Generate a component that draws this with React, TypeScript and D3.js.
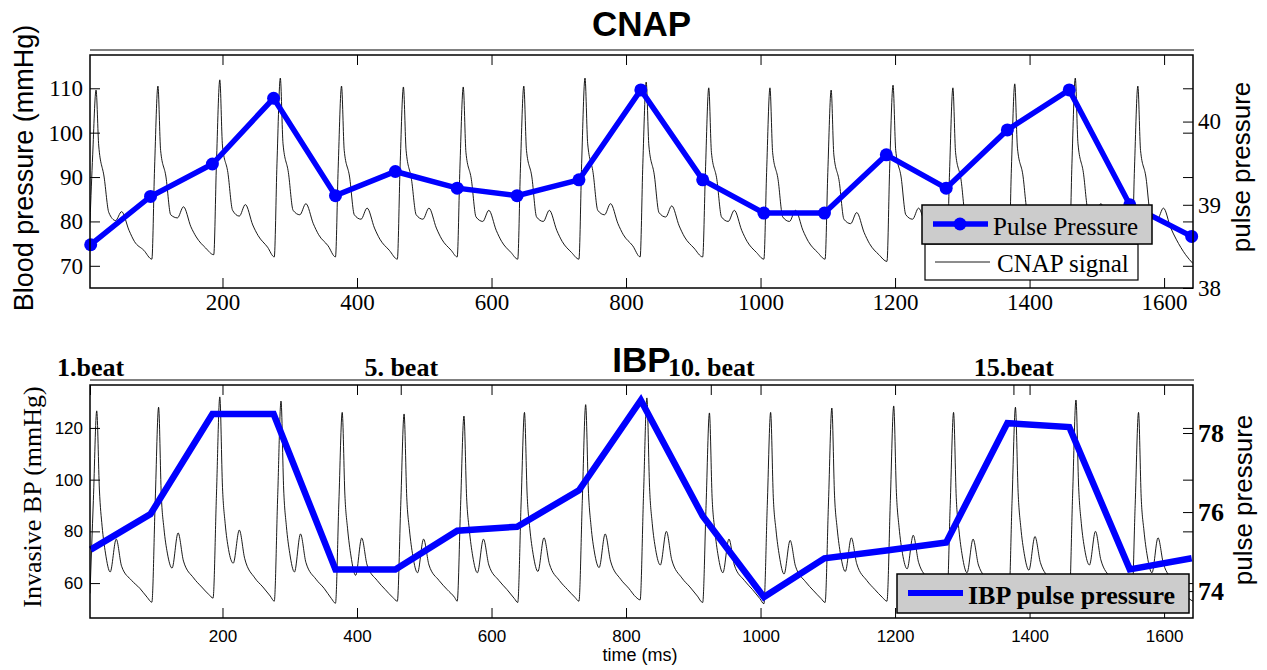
import React, { useEffect, useRef } from 'react';
import * as d3 from 'd3';

const W = 1267;
const H = 670;

// time axis (ms)
const timeDomain = [3, 1643];
const timeTicks = [200, 400, 600, 800, 1000, 1200, 1400, 1600];

// pulse pressure samples, one per beat onset
const ppTimes = [4, 93, 185, 276, 368, 457, 549, 638, 730, 822, 914, 1005, 1095, 1187, 1276, 1367, 1459, 1549, 1641];
const cnapPP = [38.52, 39.1, 39.49, 40.28, 39.11, 39.4, 39.2, 39.11, 39.3, 40.38, 39.3, 38.9, 38.9, 39.6, 39.2, 39.9, 40.38, 39.0, 38.62];
const ibpPP = [75.05, 75.95, 78.48, 78.48, 74.55, 74.55, 75.53, 75.63, 76.55, 78.83, 75.9, 73.85, 74.83, 75.03, 75.23, 78.25, 78.15, 74.55, 74.83];

// CNAP signal: beat onsets (ms), sample offsets inside a beat (ms), values per beat (mmHg)
const cnapOnsets = [3, 95, 187, 277, 368, 460, 549, 639, 730, 821, 914, 1005, 1096, 1188, 1277, 1369, 1459, 1552];
const cnapOffsets = [0, 4, 9, 13, 21, 28, 38, 47, 58, 66, 80];
const cnapBeats = [
  [80, 95, 109.6, 97, 90, 82, 80.2, 82.2, 78, 75.5, 73.5],
  [71.5, 92, 110.5, 96, 90, 81.5, 80.8, 83.3, 78.8, 76.5, 74],
  [72.5, 93, 111.9, 97, 91, 82.5, 81.2, 83.8, 79.2, 76.8, 74.2],
  [72, 93, 112.3, 97.5, 91, 82.5, 81.5, 84, 79.5, 77, 74.5],
  [72, 92, 110.5, 96, 90, 81.5, 80.5, 83, 78.5, 76, 73.5],
  [71.5, 92, 110.3, 96, 89.5, 81.5, 80.5, 83, 78.5, 76, 73.5],
  [72, 92, 110.3, 95.5, 89.5, 81, 80, 82.5, 78, 75.5, 73],
  [71.5, 92, 110.5, 96, 90, 81, 80, 82.5, 78, 75.5, 73],
  [71.5, 93, 112.3, 97.5, 91, 82.5, 81.5, 84, 79.5, 77, 74.5],
  [72, 93, 111.4, 97, 90.5, 82, 81, 83.5, 79, 76.5, 74],
  [72, 91, 110.1, 95.5, 89.5, 81, 80, 82.5, 78, 75.5, 73],
  [71.5, 91, 110.1, 95.5, 89.5, 81, 80, 82.5, 78, 75.5, 73],
  [71.5, 91, 109.6, 95, 89, 80.5, 79.5, 82, 77.5, 75, 72.5],
  [71, 92, 110.7, 96, 90, 81.5, 80.5, 83, 78.5, 76, 73.5],
  [72, 91, 110.1, 95.5, 89.5, 81, 80, 82.5, 78, 75.5, 73],
  [71.5, 92, 111, 96.5, 90.5, 82, 81, 83.5, 79, 76.5, 74],
  [72, 93, 112.3, 97.5, 91, 82.5, 81.5, 84, 79.5, 77, 74.5],
  [72, 92, 110.5, 96, 90, 81.5, 80.5, 83, 78.5, 76, 72.5]
];
const cnapEnd = [1643, 70.5];

// IBP signal
const ibpOnsets = [3, 95, 186, 277, 368, 460, 549, 639, 730, 821, 914, 1005, 1096, 1188, 1277, 1369, 1459, 1552];
const ibpOffsets = [0, 5, 10, 14, 18, 23, 30, 39, 47, 62, 74, 85];
const ibpBeats = [
  [56, 92, 126.6, 96, 82, 71.6, 64.3, 77, 66.5, 61, 58, 54.5],
  [52.6, 92, 128, 94, 81, 71.6, 65.8, 79.4, 68.5, 62, 58.5, 55.5],
  [54.2, 94, 132, 97, 83, 73, 67.7, 80.5, 69.5, 62, 58.5, 55],
  [53, 93, 130.4, 96, 82, 71.5, 64.3, 79, 68, 61.5, 58, 54],
  [52.2, 91, 126, 94, 81, 70.5, 63, 77.4, 67, 61, 57.5, 54.5],
  [53, 90, 125.4, 93, 80.5, 70.5, 64, 77, 67, 61, 57.5, 54.5],
  [53, 90, 124.6, 93, 80.5, 70.5, 64, 77, 67, 61, 57.5, 54],
  [52.5, 91, 126, 94, 81, 71, 64.5, 77.5, 67.5, 61, 57.5, 54.5],
  [53, 92, 129, 96, 82, 72, 66, 79, 68.5, 61.5, 58, 54.5],
  [53.5, 94, 131.6, 97, 83, 73, 67, 80, 69, 62, 58.5, 55],
  [52.5, 90, 125.8, 93, 80.5, 70.5, 64, 77, 67, 61, 57.5, 54],
  [52, 90, 126, 93, 80.5, 70.5, 63.5, 76.5, 66.5, 60.5, 57, 54],
  [52.5, 91, 127.7, 94, 81, 71, 64.5, 77.5, 67.5, 61, 57.5, 54.5],
  [53, 92, 128.5, 95, 81.5, 71.5, 65.5, 78.5, 68, 61.5, 58, 54.5],
  [52.5, 90, 126, 93, 80.5, 70.5, 64, 77, 67, 61, 57.5, 54],
  [53, 92, 128, 95, 81.5, 71.5, 65, 78, 68, 61.5, 58, 54.5],
  [53.5, 94, 130.8, 97, 83, 73, 67, 80, 69, 62, 58.5, 55],
  [52.5, 90, 126, 93, 80.5, 70.5, 64, 77.5, 67.5, 61, 57.5, 54]
];
const ibpEnd = [1643, 53];

// axis ticks
const cnapLeftTicks = [70, 80, 90, 100, 110];
const cnapRightTicks = [38, 39, 40];
const ibpLeftTicks = [60, 80, 100, 120];
const ibpRightTicks = [74, 76, 78];
const beatTicks = [3, 465, 926, 1376];
const beatLabels = ['1.beat', '5. beat', '10. beat', '15.beat'];

const SERIF = '"Liberation Serif", "Times New Roman", serif';
const SANS = '"Liberation Sans", Arial, sans-serif';
const BLUE = '#0000ff';

function buildSignal(onsets: number[], offsets: number[], beats: number[][], end: number[]) {
  const pts: [number, number][] = [];
  onsets.forEach((t0, i) => {
    beats[i].forEach((v, j) => pts.push([t0 + offsets[j], v]));
  });
  pts.push([end[0], end[1]]);
  return pts;
}

function styleAxis(g: any, font: string, size: number, weight = 'normal') {
  g.attr('font-family', font).attr('font-size', size).attr('font-weight', weight).attr('color', '#000');
  g.select('.domain').remove();
  g.selectAll('.tick line').attr('stroke-width', 1);
  g.selectAll('.tick text').attr('font-family', font);
}

const App = () => {
  const ref = useRef<SVGSVGElement>(null);

  useEffect(() => {
    const svg = d3.select(ref.current);
    svg.selectAll('*').remove();

    const left = 90;
    const right = 1193;
    const x = d3.scaleLinear().domain(timeDomain).range([left, right]);
    const fmt = d3.format('d');

    const panels = [
      {
        id: 'cnap', top: 55, bottom: 288, title: 'CNAP', titleY: 36,
        yL: [65, 117.5], yR: [38, 40.8],
        leftTicks: cnapLeftTicks, rightTicks: cnapRightTicks,
        signal: buildSignal(cnapOnsets, cnapOffsets, cnapBeats, cnapEnd),
        pp: cnapPP
      },
      {
        id: 'ibp', top: 385, bottom: 618, title: 'IBP', titleY: 372,
        yL: [46.5, 136.6], yR: [73.32, 79.215],
        leftTicks: ibpLeftTicks, rightTicks: ibpRightTicks,
        signal: buildSignal(ibpOnsets, ibpOffsets, ibpBeats, ibpEnd),
        pp: ibpPP
      }
    ];

    panels.forEach((p, pi) => {
      const yL = d3.scaleLinear().domain(p.yL).range([p.bottom, p.top]);
      const yR = d3.scaleLinear().domain(p.yR).range([p.bottom, p.top]);
      const g = svg.append('g');

      // grey line above the box
      g.append('line')
        .attr('x1', left).attr('x2', right + 1)
        .attr('y1', p.top - 5).attr('y2', p.top - 5)
        .attr('stroke', '#808080').attr('stroke-width', 2);

      g.append('clipPath').attr('id', 'clip-' + p.id)
        .append('rect')
        .attr('x', left).attr('y', p.top)
        .attr('width', right - left).attr('height', p.bottom - p.top);

      // waveform
      const line = d3.line<[number, number]>()
        .x(d => x(d[0]))
        .y(d => yL(d[1]))
        .curve(d3.curveMonotoneX);
      g.append('path')
        .attr('clip-path', `url(#clip-${p.id})`)
        .attr('d', line(p.signal))
        .attr('fill', 'none')
        .attr('stroke', '#000')
        .attr('stroke-width', 0.9);

      // pulse pressure
      const ppLine = d3.line<number>()
        .x((d, i) => x(ppTimes[i]))
        .y(d => yR(d));
      g.append('path')
        .attr('d', ppLine(p.pp))
        .attr('fill', 'none')
        .attr('stroke', BLUE)
        .attr('stroke-width', pi === 0 ? 5.5 : 6.5)
        .attr('stroke-linejoin', 'miter');
      if (pi === 0) {
        g.selectAll('circle.pp')
          .data(p.pp)
          .enter()
          .append('circle')
          .attr('class', 'pp')
          .attr('cx', (d, i) => x(ppTimes[i]))
          .attr('cy', d => yR(d))
          .attr('r', 6.5)
          .attr('fill', BLUE);
      }

      // axes
      const bottomAxis = g.append('g')
        .attr('transform', `translate(0,${p.bottom})`)
        .call(d3.axisBottom(x).tickValues(timeTicks).tickSizeInner(-10).tickSizeOuter(0)
          .tickPadding(pi === 0 ? 6 : 12).tickFormat(fmt));
      styleAxis(bottomAxis, pi === 0 ? SERIF : SANS, pi === 0 ? 23 : 17);

      const topAxis = g.append('g')
        .attr('transform', `translate(0,${p.top})`)
        .call(d3.axisBottom(x).tickValues(timeTicks).tickSizeInner(10).tickSizeOuter(0).tickFormat(() => ''));
      styleAxis(topAxis, SANS, 10);

      const leftAxis = g.append('g')
        .attr('transform', `translate(${left},0)`)
        .call(d3.axisLeft(yL).tickValues(p.leftTicks).tickSizeInner(-10).tickSizeOuter(0).tickPadding(7).tickFormat(fmt));
      styleAxis(leftAxis, pi === 0 ? SERIF : SANS, pi === 0 ? 23 : 17);

      const mirrorAxis = g.append('g')
        .attr('transform', `translate(${right},0)`)
        .call(d3.axisRight(yL).tickValues(p.leftTicks).tickSizeInner(-10).tickSizeOuter(0).tickFormat(() => ''));
      styleAxis(mirrorAxis, SANS, 10);

      const rightAxis = g.append('g')
        .attr('transform', `translate(${right},0)`)
        .call(d3.axisRight(yR).tickValues(p.rightTicks).tickSizeInner(-10).tickSizeOuter(0).tickPadding(5).tickFormat(fmt));
      styleAxis(rightAxis, SERIF, pi === 0 ? 23 : 26, pi === 0 ? 'normal' : 'bold');

      if (pi === 1) {
        const beatAxis = g.append('g')
          .attr('transform', `translate(0,${p.top})`)
          .call(d3.axisTop(x).tickValues(beatTicks).tickSizeInner(-10).tickSizeOuter(0).tickPadding(9)
            .tickFormat((d, i) => beatLabels[i]));
        styleAxis(beatAxis, SERIF, 26, 'bold');
      }

      // box
      g.append('rect')
        .attr('x', left).attr('y', p.top)
        .attr('width', right - left).attr('height', p.bottom - p.top)
        .attr('fill', 'none').attr('stroke', '#000').attr('stroke-width', 1.5);

      // title
      g.append('text')
        .attr('x', (left + right) / 2).attr('y', p.titleY)
        .attr('text-anchor', 'middle')
        .attr('font-family', SANS).attr('font-weight', 'bold').attr('font-size', 35)
        .text(p.title);
    });

    // axis labels
    const label = (txt: string, cx: number, cy: number, font: string, size: number, rot: boolean) => {
      svg.append('text')
        .attr('transform', rot ? `translate(${cx},${cy}) rotate(-90)` : `translate(${cx},${cy})`)
        .attr('text-anchor', 'middle')
        .attr('font-family', font).attr('font-size', size)
        .text(txt);
    };
    label('Blood pressure (mmHg)', 33, 168, SANS, 27, true);
    label('pulse pressure', 1250, 167, SANS, 26, true);
    label('Invasive BP (mmHg)', 41, 497, SERIF, 26, true);
    label('pulse pressure', 1252, 500, SANS, 26, true);
    label('time (ms)', 640, 661, SANS, 18, false);

    // CNAP legends
    const lg = svg.append('g');
    lg.append('rect').attr('x', 925).attr('y', 244).attr('width', 213).attr('height', 36)
      .attr('fill', '#fff').attr('stroke', '#000').attr('stroke-width', 1.2);
    lg.append('line').attr('x1', 935).attr('x2', 990).attr('y1', 262).attr('y2', 262)
      .attr('stroke', '#000').attr('stroke-width', 0.9);
    lg.append('text').attr('x', 997).attr('y', 272)
      .attr('font-family', SERIF).attr('font-size', 25).text('CNAP signal');
    lg.append('rect').attr('x', 922).attr('y', 205).attr('width', 230).attr('height', 39)
      .attr('fill', '#cccccc').attr('stroke', '#000').attr('stroke-width', 1.5);
    lg.append('line').attr('x1', 933).attr('x2', 988).attr('y1', 224).attr('y2', 224)
      .attr('stroke', BLUE).attr('stroke-width', 5.5);
    lg.append('circle').attr('cx', 960).attr('cy', 224).attr('r', 6.5).attr('fill', BLUE);
    lg.append('text').attr('x', 993).attr('y', 235)
      .attr('font-family', SERIF).attr('font-size', 25).text('Pulse Pressure');

    // IBP legend
    lg.append('rect').attr('x', 897).attr('y', 574).attr('width', 292).attr('height', 39)
      .attr('fill', '#cccccc').attr('stroke', '#000').attr('stroke-width', 1.5);
    lg.append('line').attr('x1', 908).attr('x2', 963).attr('y1', 593).attr('y2', 593)
      .attr('stroke', BLUE).attr('stroke-width', 6);
    lg.append('text').attr('x', 968).attr('y', 604)
      .attr('font-family', SERIF).attr('font-weight', 'bold').attr('font-size', 26).text('IBP pulse pressure');
  }, []);

  return (
    <div style={{ position: 'absolute', left: 0, top: 0 }}>
      <svg ref={ref} width={W} height={H} style={{ display: 'block', background: '#fff' }} />
    </div>
  );
};

export default App;
